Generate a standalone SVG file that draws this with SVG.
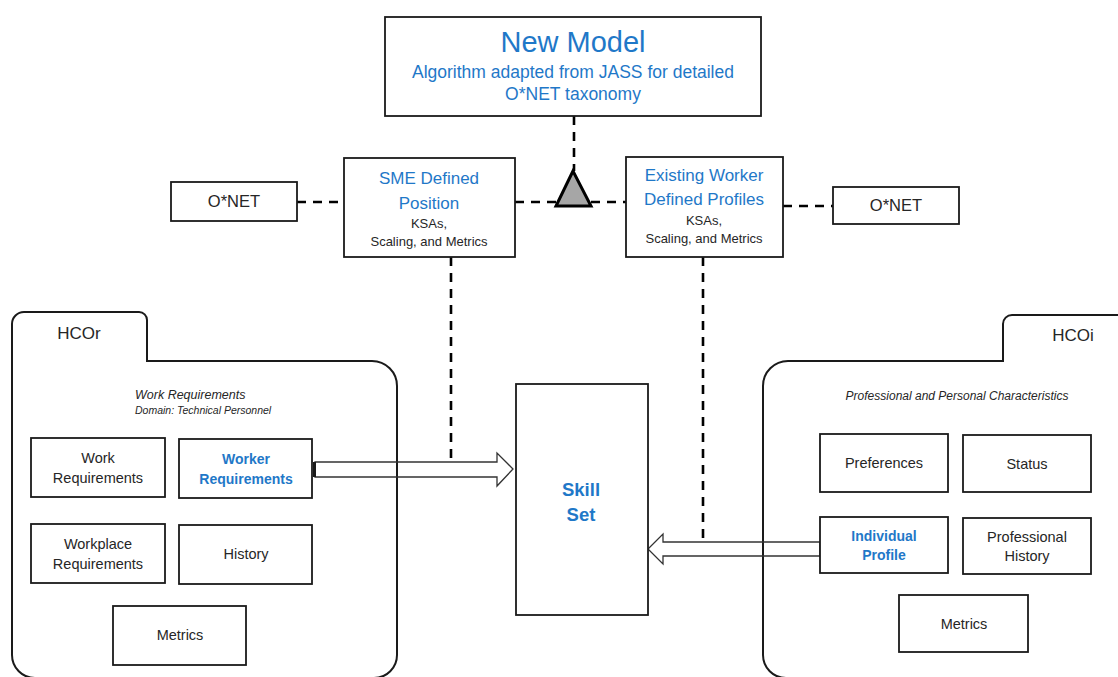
<svg xmlns="http://www.w3.org/2000/svg" width="1118" height="677" viewBox="0 0 1118 677">
<style>
.box{fill:#fff;stroke:#1a1a1a;stroke-width:1.8}
.fold{fill:none;stroke:#1a1a1a;stroke-width:2}
.dash{fill:none;stroke:#000;stroke-width:2.6;stroke-dasharray:9 7}
.harrow{fill:none;stroke:#333;stroke-width:1.3}
text{font-family:"Liberation Sans",Arial,sans-serif;text-anchor:middle;fill:#262626}
.blue{fill:#1f78c8}
.b{font-weight:bold}
.it{font-style:italic}
.l{text-anchor:start}
</style>
<rect width="1118" height="677" fill="#fff"/>
<g id="folder-hcor">
<path class="fold" d="M12,324 A12,12 0 0 1 24,312 L139,312 A8,8 0 0 1 147,320 L147,361 L372,361 A25,25 0 0 1 397,386 L397,655 A23,23 0 0 1 374,678 L35,678 A23,23 0 0 1 12,655 Z"/>
<text x="79" y="339" font-size="17">HCOr</text>
<text x="135" y="399" font-size="12.5" class="it l">Work Requirements</text>
<text x="135" y="414" font-size="10.5" class="it l">Domain: Technical Personnel</text>
</g>
<g id="folder-hcoi">
<path class="fold" d="M763,386 A25,25 0 0 1 788,361 L1003,361 L1003,324 A9,9 0 0 1 1012,315 L1130,315 L1130,678 L786,678 A23,23 0 0 1 763,655 Z"/>
<text x="1073" y="341" font-size="17">HCOi</text>
<text x="957" y="400" font-size="12" class="it">Professional and Personal Characteristics</text>
</g>
<g id="connectors">
<line class="dash" x1="574" y1="116" x2="574" y2="171"/>
<line class="dash" x1="297" y1="202" x2="344" y2="202"/>
<line class="dash" x1="515" y1="202" x2="556" y2="202"/>
<line class="dash" x1="591" y1="202" x2="626" y2="202"/>
<line class="dash" x1="783" y1="206" x2="833" y2="206"/>
<line class="dash" x1="451" y1="257" x2="451" y2="462"/>
<line class="dash" x1="703" y1="257" x2="703" y2="542"/>
<polygon class="harrow" points="315,462 497,462 497,453 513,469 497,486 497,477 315,477"/>
<rect x="313" y="462" width="3" height="15" fill="#1a1a1a"/>
<polygon class="harrow" points="820,542 663,542 663,534 648,549 663,564 663,556 820,556"/>
</g>
<g id="new-model">
<rect class="box" x="385" y="17" width="376" height="99"/>
<text x="573" y="52" font-size="29" class="blue">New Model</text>
<text x="573" y="78" font-size="17.5" class="blue">Algorithm adapted from JASS for detailed</text>
<text x="573" y="100" font-size="17.5" class="blue">O*NET taxonomy</text>
</g>
<g id="triangle">
<polygon points="573,171 556,206 591,206" fill="#a6a6a6" stroke="#000" stroke-width="3" stroke-linejoin="miter"/>
</g>
<g id="onet-left">
<rect class="box" x="171" y="182" width="126" height="39"/>
<text x="234" y="207" font-size="16.5">O*NET</text>
</g>
<g id="sme">
<rect class="box" x="344" y="158" width="171" height="99"/>
<text x="429" y="184" font-size="17" class="blue">SME Defined</text>
<text x="429" y="209" font-size="17" class="blue">Position</text>
<text x="429" y="228" font-size="13">KSAs,</text>
<text x="429" y="246" font-size="13">Scaling, and Metrics</text>
</g>
<g id="existing">
<rect class="box" x="626" y="157" width="157" height="100"/>
<text x="704" y="181" font-size="17" class="blue">Existing Worker</text>
<text x="704" y="205" font-size="17" class="blue">Defined Profiles</text>
<text x="704" y="225" font-size="13">KSAs,</text>
<text x="704" y="243" font-size="13">Scaling, and Metrics</text>
</g>
<g id="onet-right">
<rect class="box" x="833" y="187" width="126" height="37"/>
<text x="896" y="211" font-size="16.5">O*NET</text>
</g>
<g id="work-req">
<rect class="box" x="31" y="438" width="134" height="59"/>
<text x="98" y="463" font-size="14.5">Work</text>
<text x="98" y="483" font-size="14.5">Requirements</text>
</g>
<g id="worker-req">
<rect class="box" x="179" y="439" width="133" height="59"/>
<text x="246" y="464" font-size="14" class="blue b">Worker</text>
<text x="246" y="484" font-size="14" class="blue b">Requirements</text>
</g>
<g id="workplace-req">
<rect class="box" x="31" y="524" width="134" height="59"/>
<text x="98" y="549" font-size="14.5">Workplace</text>
<text x="98" y="569" font-size="14.5">Requirements</text>
</g>
<g id="history">
<rect class="box" x="179" y="525" width="133" height="59"/>
<text x="246" y="559" font-size="14.5">History</text>
</g>
<g id="metrics-r">
<rect class="box" x="113" y="606" width="133" height="59"/>
<text x="180" y="640" font-size="14.5">Metrics</text>
</g>
<g id="skill-set">
<rect class="box" x="516" y="384" width="132" height="231"/>
<text x="581" y="496" font-size="18.5" class="blue b">Skill</text>
<text x="581" y="521" font-size="18.5" class="blue b">Set</text>
</g>
<g id="preferences">
<rect class="box" x="820" y="434" width="128" height="58"/>
<text x="884" y="468" font-size="14.5">Preferences</text>
</g>
<g id="status">
<rect class="box" x="963" y="435" width="128" height="57"/>
<text x="1027" y="469" font-size="14.5">Status</text>
</g>
<g id="individual-profile">
<rect class="box" x="820" y="517" width="128" height="56"/>
<text x="884" y="541" font-size="14" class="blue b">Individual</text>
<text x="884" y="560" font-size="14" class="blue b">Profile</text>
</g>
<g id="professional-history">
<rect class="box" x="963" y="518" width="128" height="56"/>
<text x="1027" y="542" font-size="14.5">Professional</text>
<text x="1027" y="561" font-size="14.5">History</text>
</g>
<g id="metrics-i">
<rect class="box" x="899" y="595" width="129" height="57"/>
<text x="964" y="629" font-size="14.5">Metrics</text>
</g>
</svg>
